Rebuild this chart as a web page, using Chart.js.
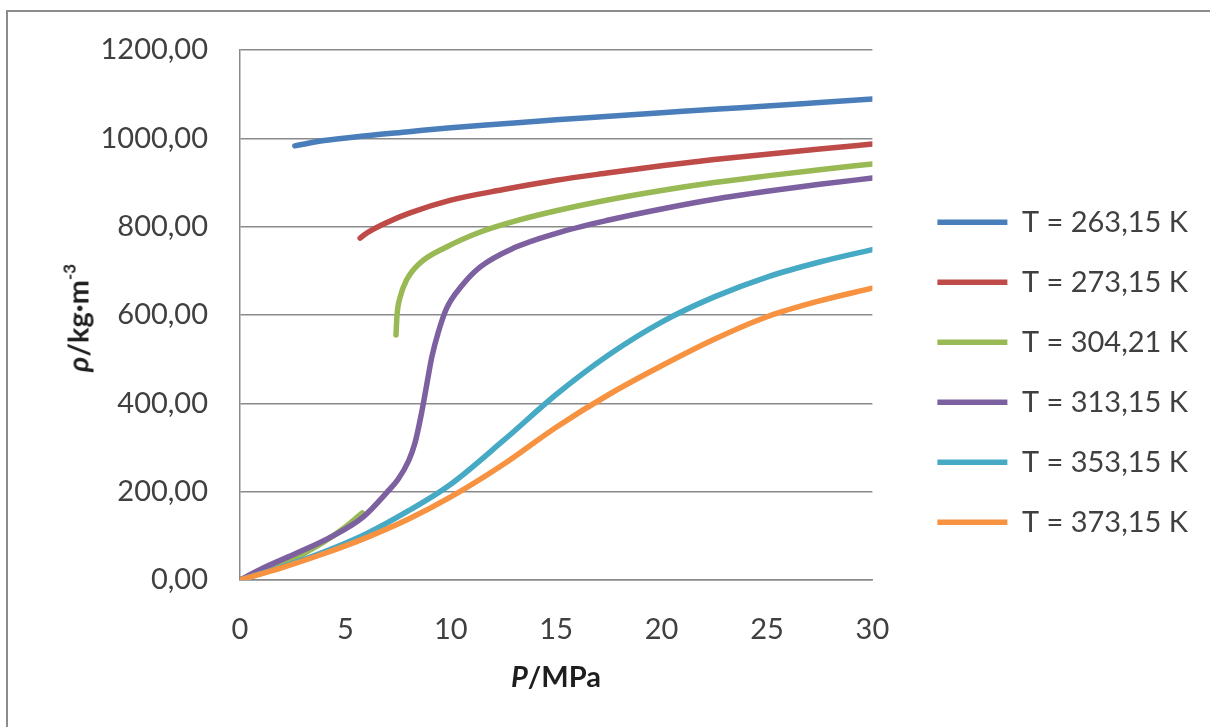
<!DOCTYPE html>
<html>
<head>
<meta charset="utf-8">
<script src="https://cdn.jsdelivr.net/npm/chart.js@4.4.1/dist/chart.umd.min.js"></script>
<style>
  html, body { margin: 0; padding: 0; background: #fff; overflow: hidden; }
  #wrap { position: relative; width: 1210px; height: 727px; overflow: hidden; }
  #frame { position: absolute; left: 6px; top: 10px; width: 1300px; height: 800px; border: 2px solid #8c8c8c; box-sizing: border-box; }
  #chart { position: absolute; left: 0; top: 0; }
  .ttl { position: absolute; font-family: Lato, sans-serif; font-weight: bold; color: #1e1e1e; font-size: 29px; white-space: nowrap; }
  #xTitle { left: 556px; top: 675px; transform: translate(-50%, -50%); }
  #yTitle { left: 77px; top: 318px; transform: translate(-50%, -50%) rotate(-90deg); }
  #yTitle sup { font-size: 17px; position: relative; top: -2px; }
</style>
</head>
<body>
<div id="wrap">
  <div id="frame"></div>
  <canvas id="chart" width="1210" height="727"></canvas>
  <div class="ttl" id="xTitle"><i>P</i>/MPa</div>
  <div class="ttl" id="yTitle"><i>ρ</i>/kg·m<sup>-3</sup></div>
</div>
<script>
// --- 資料 (P / MPa, ρ / kg·m-3) ---
const labels = ['T = 263,15 K', 'T = 273,15 K', 'T = 304,21 K', 'T = 313,15 K', 'T = 353,15 K', 'T = 373,15 K'];
const colors = ['#4a7ebb', '#be4b48', '#98b954', '#7d60a0', '#46aac5', '#f69240'];

// 263,15 K: 氣相 + 液相
const p263Gas = [0, 0.5, 1, 1.5, 2, 2.6];
const rho263Gas = [0, 8, 17, 27, 38, 56];
const p263Liq = [2.6, 4, 6, 8, 10, 12.5, 15, 17.5, 20, 22.5, 25, 27.5, 30];
const rho263Liq = [983, 995, 1006, 1015, 1024, 1033, 1042, 1050, 1058, 1066, 1073, 1081, 1089];

// 273,15 K
const p273Gas = [0, 1, 2, 3, 3.5];
const rho273Gas = [0, 18, 38, 60, 74];
const p273Liq = [5.7, 6, 7, 8, 10, 12.5, 15, 17.5, 20, 22.5, 25, 27.5, 30];
const rho273Liq = [774, 785, 810, 830, 860, 884, 905, 922, 938, 952, 964, 976, 987];

// 304,21 K
const p304Gas = [0, 1, 2, 3, 4, 5, 5.8];
const rho304Gas = [0, 18, 37, 60, 87, 120, 152];
const p304Liq = [7.4, 7.45, 7.6, 7.9, 8.5, 9.8, 11.4, 13, 15, 17.5, 20, 22.5, 25, 27.5, 30];
const rho304Liq = [555, 600, 641, 679, 716, 754, 788, 812, 836, 861, 882, 900, 915, 929, 942];

// 313,15 K
const p313 = [0, 1.1, 2.7, 4.3, 5.85, 7, 7.5, 8, 8.3, 8.6, 8.85, 9.1, 9.4, 9.8, 10.5, 11.4, 13, 15, 17.5, 20, 22.5, 25, 27.5, 30];
const rho313 = [0, 27, 61, 97, 143, 200, 228, 270, 310, 375, 440, 505, 560, 615, 665, 709, 752, 785, 815, 840, 862, 880, 896, 910];

// 353,15 K
const p353 = [0, 2, 4, 6, 8, 10, 12.5, 15, 17.5, 20, 22.5, 25, 27.5, 30];
const rho353 = [0, 30, 64, 105, 157, 217, 316, 420, 510, 584, 641, 686, 720, 748];

// 373,15 K
const p373 = [0, 2, 4, 6, 8, 10, 12.5, 15, 17.5, 20, 22.5, 25, 27.5, 30];
const rho373 = [0, 28, 60, 96, 138, 188, 262, 346, 420, 485, 545, 596, 632, 661];

const yTicks = [0, 200, 400, 600, 800, 1000, 1200];

// 組合點 (氣相與液相之間用 null 斷開)
function toPoints(ps, rs) {
    return ps.map((p, i) => ({ x: p, y: rs[i] }));
}
function joinBranches(gasP, gasR, liqP, liqR) {
    const gap = { x: (gasP[gasP.length - 1] + liqP[0]) / 2, y: null };
    return toPoints(gasP, gasR).concat([gap], toPoints(liqP, liqR));
}

const seriesData = [
    joinBranches(p263Gas, rho263Gas, p263Liq, rho263Liq),
    joinBranches(p273Gas, rho273Gas, p273Liq, rho273Liq),
    joinBranches(p304Gas, rho304Gas, p304Liq, rho304Liq),
    toPoints(p313, rho313),
    toPoints(p353, rho353),
    toPoints(p373, rho373)
];

const FONT = 'Lato, sans-serif';
const GRID = '#8a8a8a';

const datasets = seriesData.map((d, i) => ({
    label: labels[i],
    data: d,
    borderColor: colors[i],
    backgroundColor: colors[i],
    borderWidth: 5.5,
    borderCapStyle: 'round',
    borderJoinStyle: 'round',
    pointRadius: 0,
    cubicInterpolationMode: 'monotone',
    spanGaps: false,
    order: seriesData.length - 1 - i // 後面的系列畫在上層
}));

const ctx = document.getElementById('chart').getContext('2d');
const chart = new Chart(ctx, {
    type: 'line',
    data: { datasets },
    options: {
        responsive: false,
        animation: false,
        layout: { padding: { left: 40, top: 50, right: 12, bottom: 87 } },
        scales: {
            x: {
                type: 'linear',
                min: 0, max: 30,
                grid: { display: false },
                border: { display: true, color: GRID, width: 1.5 },
                ticks: { stepSize: 5, padding: 24, color: '#404040', font: { family: FONT, size: 29 } },
                afterFit(s) { s.height = 60; }
            },
            y: {
                type: 'linear',
                min: 0, max: 1200,
                afterBuildTicks(s) { s.ticks = yTicks.map(v => ({ value: v })); },
                grid: { color: GRID, lineWidth: 1.5, drawTicks: false },
                border: { display: true, color: GRID, width: 1.5 },
                ticks: {
                    padding: 32, color: '#404040', font: { family: FONT, size: 29 },
                    callback: v => v.toFixed(2).replace('.', ',')
                },
                afterFit(s) { s.width = 200; }
            },
            gap: {
                type: 'linear',
                position: 'right',
                display: true,
                grid: { display: false },
                border: { display: false },
                ticks: { display: false },
                afterFit(s) { s.width = 34; }
            }
        },
        plugins: {
            tooltip: { enabled: false },
            legend: {
                position: 'right',
                align: 'center',
                maxWidth: 400,
                title: { display: true, text: ' ', font: { size: 12 }, padding: { top: 40, bottom: 0 } },
                labels: {
                    usePointStyle: true,
                    pointStyle: 'line',
                    pointStyleWidth: 70,
                    padding: 31,
                    color: '#404040',
                    font: { family: FONT, size: 29 },
                    sort: (a, b) => a.datasetIndex - b.datasetIndex
                }
            }
        }
    }
});
</script>
</body>
</html>
